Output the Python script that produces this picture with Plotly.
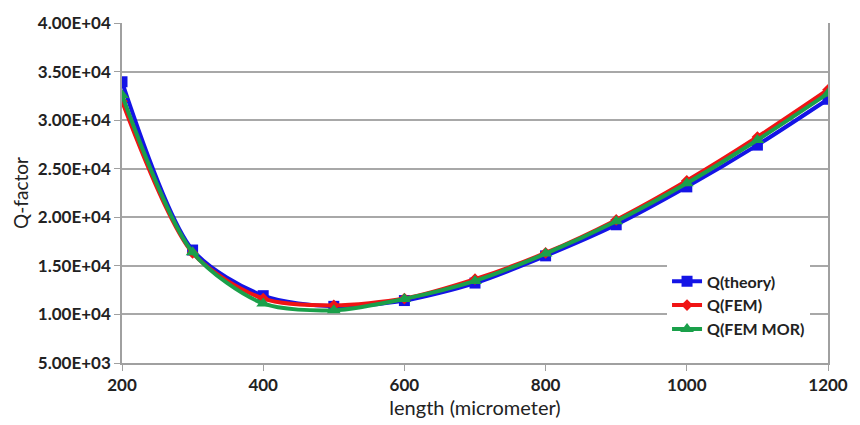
import plotly.graph_objects as go

length = [200, 300, 400, 500, 600, 700, 800, 900, 1000, 1100, 1200]
q_theory = [33950, 16630, 11930, 10830, 11430, 13230, 16030, 19230, 23130, 27430, 32150]
q_fem = [31950, 16330, 11630, 10930, 11630, 13630, 16330, 19730, 23760, 28260, 33130]
q_fem_mor = [32600, 16400, 11130, 10430, 11600, 13450, 16260, 19600, 23500, 27950, 32750]

y_ticks = [5000, 10000, 15000, 20000, 25000, 30000, 35000, 40000]
x_ticks = [200, 400, 600, 800, 1000, 1200]

FONT = "Lato"
fig = go.Figure()
fig.add_trace(go.Scatter(x=length, y=q_theory, name="Q(theory)", mode="lines+markers",
                         line=dict(color="#1414e6", width=4, shape="spline", smoothing=0.8),
                         marker=dict(symbol="square", size=11, color="#1414e6")))
fig.add_trace(go.Scatter(x=length, y=q_fem, name="Q(FEM)", mode="lines+markers",
                         line=dict(color="#f01414", width=4, shape="spline", smoothing=0.8),
                         marker=dict(symbol="diamond", size=9, color="#f01414")))
fig.add_trace(go.Scatter(x=length, y=q_fem_mor, name="Q(FEM MOR)", mode="lines+markers",
                         line=dict(color="#1aa04a", width=4, shape="spline", smoothing=0.8),
                         marker=dict(symbol="triangle-up", size=12, color="#1aa04a")))

fig.update_layout(
    width=860, height=425,
    margin=dict(l=122, r=23, t=14, b=61),
    paper_bgcolor="white", plot_bgcolor="white",
    font=dict(family=FONT, color="#222222"),
    showlegend=True,
    legend=dict(x=0.772, y=0.29, xanchor="left", yanchor="top",
                bgcolor="white", borderwidth=0,
                font=dict(family=FONT, size=16, weight="bold", color="#222222"),
                tracegroupgap=0, itemwidth=30),
    xaxis=dict(range=[200, 1200], tickvals=x_ticks, ticktext=[str(v) for v in x_ticks],
               showgrid=False, zeroline=False, showline=True, linecolor="#a0a0a0", linewidth=1.5,
               ticks="outside", ticklen=6, tickcolor="#a0a0a0",
               tickfont=dict(family=FONT, size=17, weight="bold", color="#222222"),
               title=dict(text="length (micrometer)", font=dict(family=FONT, size=20, color="#222222"),
                          standoff=4)),
    yaxis=dict(range=[5000, 40000], tickvals=y_ticks, ticktext=[f"{v:.2E}" for v in y_ticks],
               showgrid=True, gridcolor="#a8a8a8", gridwidth=1.5, zeroline=False,
               showline=True, mirror=True, linecolor="#a0a0a0", linewidth=1.5,
               ticks="outside", ticklen=6, tickcolor="#a0a0a0",
               tickfont=dict(family=FONT, size=17, weight="bold", color="#222222"),
               title=dict(text="Q-factor", font=dict(family=FONT, size=19, color="#222222"),
                          standoff=4)),
)
fig.write_html("out.html")
